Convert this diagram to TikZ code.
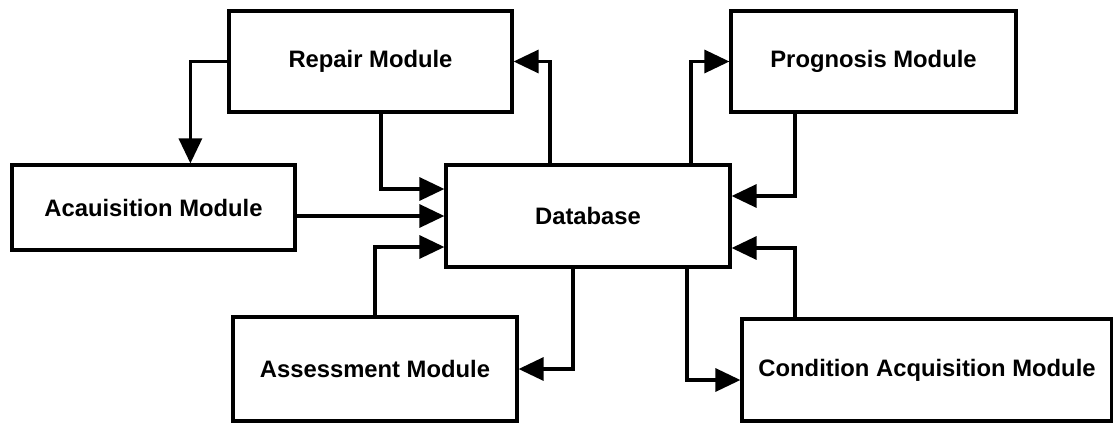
\documentclass[tikz,border=0pt]{standalone}
\usepackage{fontspec}
\setmainfont{Liberation Sans}
\usetikzlibrary{arrows.meta, positioning}
\tikzset{
  every picture/.style={font=\bfseries\fontsize{11.9}{14}\selectfont, line width=1.6pt, x=0.5pt, y=-0.5pt},
  modbox/.style={draw=black, fill=white, align=center, inner sep=0pt, minimum width=#1},
  modbox/.default=141.5pt,
  arrow/.style={-{Triangle[length=12.5pt, width=11.5pt]}, draw=black, line width=1.6pt},
}

\begin{document}
\begin{tikzpicture}
  \useasboundingbox (0,0) rectangle (1113,423);
  \node[modbox=141.5pt, minimum height=50.5pt] (rep) at (370.5,61.5) {Repair Module};
  \node[modbox=142.5pt, minimum height=50.5pt] (prog) at (873.5,61.5) {Prognosis Module};
  \node[modbox=141.5pt, minimum height=42.5pt] (acq) at (153.5,207.5) {Acauisition Module};
  \node[modbox=142pt, minimum height=51pt] (db) at (588,216) {Database};
  \node[modbox=142pt, minimum height=52pt] (ass) at (375,369) {Assessment Module};
  \node[modbox=185pt, minimum height=51pt] (cond) at (927,370) {Condition Acquisition Module};
  % into the database
  \draw[arrow] (rep.west) -| ([xshift=90pt]acq.north west);
  \draw[arrow] ([xshift=5.25pt]rep.south) |- ([yshift=13.5pt]db.west);
  \draw[arrow] (acq.east |- db.west) -- (db.west);
  \draw[arrow] (ass.north) |- ([yshift=-15.5pt]db.west);
  \draw[arrow] ([xshift=-39.25pt]prog.south) |- ([yshift=10pt]db.east);
  \draw[arrow] ([xshift=-66pt]cond.north) |- ([yshift=-16pt]db.east);
  % out of the database
  \draw[arrow] ([xshift=-19pt]db.north) |- (rep.east);
  \draw[arrow] ([xshift=51.5pt]db.north) |- (prog.west);
  \draw[arrow] ([xshift=-7.5pt]db.south) |- (ass.east);
  \draw[arrow] ([xshift=49.5pt]db.south) |- ([yshift=-5pt]cond.west);
\end{tikzpicture}
\end{document}
